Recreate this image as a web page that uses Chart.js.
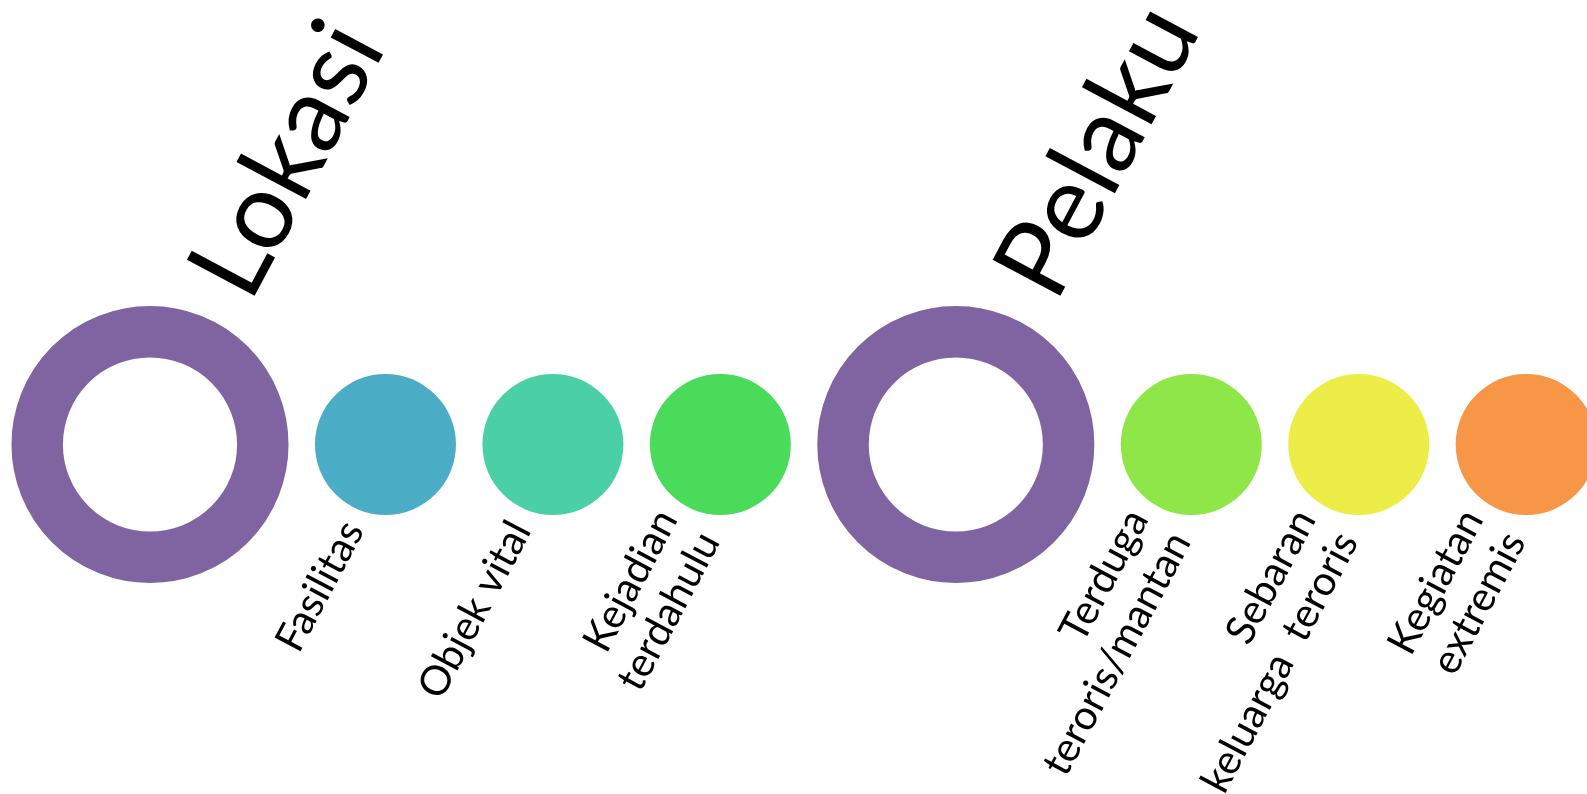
<!DOCTYPE html>
<html>
<head>
<meta charset="utf-8">
<script src="https://cdn.jsdelivr.net/npm/chart.js@4.4.1/dist/chart.umd.min.js"></script>
<style>
  html, body { margin: 0; padding: 0; background: #ffffff; overflow: hidden; }
  #wrap { width: 1587px; height: 794px; position: relative; }
</style>
</head>
<body>
<div id="wrap"><canvas id="c"></canvas></div>
<script>
// ---- data ----
const categories = ['Lokasi', 'Pelaku'];
const items = [
  ['Fasilitas'],
  ['Objek vital'],
  ['Kejadian', 'terdahulu'],
  ['Terduga', 'teroris/mantan'],
  ['Sebaran', 'keluarga  teroris'],
  ['Kegiatan', 'extremis']
];
const itemCategory = [0, 0, 0, 1, 1, 1];
const categoryColor = '#8064A2';
const itemColors = ['#4BACC6', '#4BD0A5', '#4ADB5B', '#8EE649', '#EDED47', '#F79646'];

// ---- style constants (in units of an item circle radius) ----
const R_RING_OUT = 1.965, R_RING_IN = 1.235, R_ITEM = 1, GAP = 0.375;
const PX = 70.5;                 // pixels per unit
const ANGLE = 62 * Math.PI / 180;
const FONT = 'Lato, "Open Sans", sans-serif';
const TITLE_SIZE = 107, LABEL_SIZE = 41, LINE_H = 48;

// ---- layout of the chain of circles (computed from radii) ----
const ringPts = [], itemPts = [];
let x = 0, prevR = null;
categories.forEach((c, ci) => {
  const rr = R_RING_OUT;
  if (prevR !== null) x += prevR + GAP + rr;
  ringPts.push({ x: x, y: 0 });
  prevR = rr;
  itemCategory.forEach((cat, ii) => {
    if (cat !== ci) return;
    x += prevR + GAP + R_ITEM;
    itemPts.push({ x: x, y: 0 });
    prevR = R_ITEM;
  });
});

const xMin = -150 / PX, xMax = xMin + 1587 / PX;
const yMax = 444.5 / PX, yMin = yMax - 794 / PX;

function unitPx(chart) {
  const s = chart.scales.x;
  return s.getPixelForValue(1) - s.getPixelForValue(0);
}

const labelPlugin = {
  id: 'nodeLabels',
  afterDatasetsDraw(chart) {
    const ctx = chart.ctx;
    const u = unitPx(chart);
    ctx.save();
    ctx.fillStyle = '#000000';
    chart.getDatasetMeta(0).data.forEach((pt, i) => {
      ctx.save();
      ctx.translate(pt.x + 0.722 * R_RING_OUT * u, pt.y - 1.011 * R_RING_OUT * u);
      ctx.rotate(-ANGLE);
      ctx.font = TITLE_SIZE + 'px ' + FONT;
      ctx.textAlign = 'left';
      ctx.textBaseline = 'alphabetic';
      ctx.fillText(categories[i], 0, 0);
      ctx.restore();
    });
    chart.getDatasetMeta(1).data.forEach((pt, i) => {
      const lines = items[i];
      ctx.save();
      ctx.translate(pt.x - 0.46 * u, pt.y + 1.13 * u);
      ctx.rotate(-ANGLE);
      ctx.font = LABEL_SIZE + 'px ' + FONT;
      ctx.textAlign = 'right';
      ctx.textBaseline = 'middle';
      lines.forEach((l, k) => ctx.fillText(l, 0, (k - (lines.length - 1) / 2) * LINE_H));
      ctx.restore();
    });
    ctx.restore();
  }
};

new Chart(document.getElementById('c'), {
  type: 'scatter',
  data: {
    datasets: [
      {
        label: 'Kategori',
        data: ringPts,
        pointRadius: (c) => (R_RING_OUT + R_RING_IN) / 2 * unitPx(c.chart),
        pointBorderWidth: (c) => (R_RING_OUT - R_RING_IN) * unitPx(c.chart),
        pointHoverRadius: (c) => (R_RING_OUT + R_RING_IN) / 2 * unitPx(c.chart),
        pointBackgroundColor: 'rgba(255,255,255,0)',
        pointBorderColor: categoryColor,
        clip: false
      },
      {
        label: 'Item',
        data: itemPts,
        pointRadius: (c) => R_ITEM * unitPx(c.chart),
        pointHoverRadius: (c) => R_ITEM * unitPx(c.chart),
        pointBorderWidth: 0,
        pointBackgroundColor: itemColors,
        pointBorderColor: itemColors,
        clip: false
      }
    ]
  },
  options: {
    responsive: true,
    maintainAspectRatio: false,
    animation: false,
    events: [],
    layout: { padding: 0 },
    plugins: { legend: { display: false }, tooltip: { enabled: false }, title: { display: false } },
    scales: {
      x: { type: 'linear', min: xMin, max: xMax, display: false },
      y: { type: 'linear', min: yMin, max: yMax, display: false }
    }
  },
  plugins: [labelPlugin]
});
</script>
</body>
</html>
